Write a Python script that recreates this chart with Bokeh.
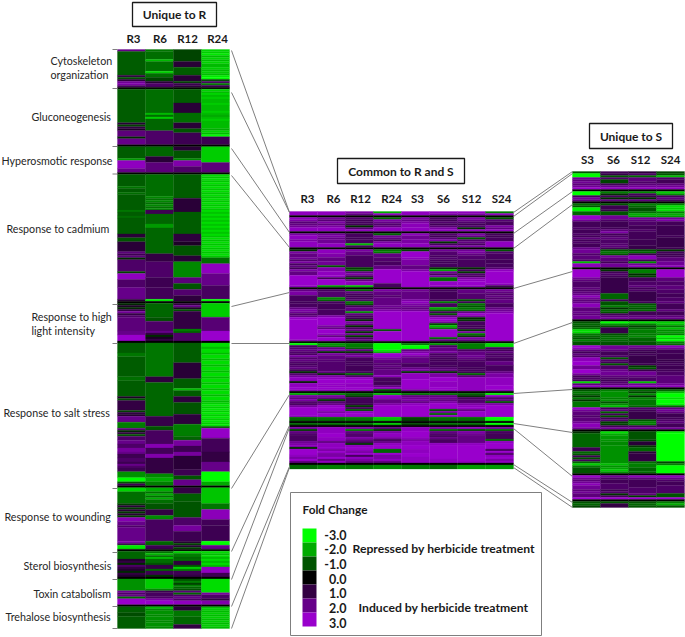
from bokeh.plotting import figure
from bokeh.models import ColumnDataSource, LinearColorMapper
from bokeh.core.properties import value
from bokeh.embed import file_html
from bokeh.resources import INLINE

# ---------------- data: fold change, listed block by block, column by column ----------------
left_cols = ["R3", "R6", "R12", "R24"]
common_cols = ["R3", "R6", "R12", "R24", "S3", "S6", "S12", "S24"]
right_cols = ["S3", "S6", "S12", "S24"]
left_terms = ["Cytoskeleton\norganization", "Gluconeogenesis", "Hyperosmotic response", "Response to cadmium",
              "Response to high\nlight intensity", "Response to salt stress", "Response to wounding",
              "Sterol biosynthesis", "Toxin catabolism", "Trehalose biosynthesis"]

L_R3 = [
 [2]+[-1.1]*12+[1,-1,0.8,2.2,2.5,1.5],
 [-1.1]*17+[0.8,-0.8,1,0.6]+[1.8]*3+[-0.5]+[2]*3,
 [-1.1]*6+[-1.8]+[2.8]*4+[2]*2,
 [-1.1]*6+[-1.4,-1.1,-1.1,-1.3]+[-1.1]*8+[-1.4,-1.1,-1.1,-1.3]+[-1.1]*8+[0.8]*2+[-1]*2+[0.8]*5+[1.8,1.2,1.8,-0.5]+[1.5]*6+[-0.8]+[2.8]*3+[1.5]*4+[2]*6+[0.8],
 [-0.5,0.6,-0.5,1,2.3,1,1.5]+[1.8]*7+[2,2]+[3]*3,
 [-1.1]*5+[-1.4]*2+[-1.1]*10+[-1.3]*2+[-1.1]*8+[0.6,-1,1]+[1]*4+[-0.8,1,0.7]+[2]*3+[-1.5]*3+[1.8,-0.5,1]+[-1]+[1.5,1.5,2,2,1.5,1.5,2.3,2.3,2,1.2,1.2,1.5,1.5,1.2,2,1.5,1.2,1.2]+[-1.7]*3+[-3]*2+[-1,1.2],
 [-2.5]*2+[-1.3]*6+[-0.7,0.8,-0.7,0.8,-0.7,0.8,-0.7]+[2.6,2.6,2,2,1.5]+[2]*7+[2.5,1.2]+[-2.7]*2+[2,1],
 [-1.2]*4+[0.7,1,-0.5,1.5,1,0.7,-0.5,1,0.7],
 [-1.7]*6+[2.2,1.5,2,-1.2]+[3]*3,
 [-1.1]*3+[-0.9]*2+[-1.1]*6,
]
L_R6 = [
 [-1.4]+[-1.3]*4+[-2.2]+[-1.3]*5+[-2.5]+[-1.3]*2+[-0.8]*2+[0.8]+[1.5]*2,
 [-1.3]*12+[-2.2,-1.3,-2.4]+[-1.2]*6+[1.5]*7,
 [-1.2]*5+[0.8]*3+[1.8]*5,
 [-1.3]*11+[-1.6,-1.3,-1.6,-1.3,-1.6,-1.3,-1.6]+[1.2]*2+[-1.2]*5+[-1.8]*2+[-1.2]*13+[1]*4+[1.5]*8+[1.2]*5+[1.3]*6+[-2.8],
 [-1.2]*7+[-1]*2+[1.5]*5+[2,1,-0.5,0.5,1],
 [-1.4]*17+[0.9]*3+[-1.2]*17+[1.1]*5+[-1]*2+[1.4]*7+[2.6]*2+[1.3]*3+[2.5]*2+[1]*8+[-1.6]*2+[-2]*2+[-1.5]*2,
 [-2]*2+[-1.3,-2,-1.3,-2,-1.3,-1.3]+[-1]*3+[1]*3+[-1.6]*2+[1.4]*11+[-1.2]*2+[1.2]*2,
 [-1.3,-2.2,-1.3,-2.2,-1.3,-1.3,-1,1,1,-1.2,1.2,1.2,-0.6],
 [-2.4]*5+[-1.6,1.2,1.4,1.4,1.5,2.4,3,3],
 [-2.2,-1.6,-1.7,-1.7,-1.6,-1.7,-1.7,-1.6,-1.7,-1.7,-1.6],
]
L_R12 = [
 [-0.8]*6+[0.8]*3+[-1.1]*4+[0.8]*3+[-0.8,1.2,1],
 [-1.1]*7+[0.8]*5+[-1.3]*5+[0.8]*3+[-1]*2+[1.2]*6,
 [0.8]*2+[-1]*4+[-1.6]+[2.5]*3+[1.5]*3,
 [-1.1]*12+[0.8]*7+[-1.1]*11+[0.9]*4+[0.6]*2+[-1]*5+[0.8]*3+[-1.6]*8+[1.8]*3+[-1]*3+[1.6]*3+[0.9]*3,
 [0.9,2,0.7,-1]+[1]*9+[-1.5,-1.2,1.5,1.5,1.5,1.5],
 [-1.1]*10+[0.8]*8+[-1.1]*5+[-2.2]+[-1.1]*3+[0.9]*3+[-1]*6+[0.9]*5+[-1.5]*6+[-1.2]*2+[2.3]*3+[1.2]*3+[2.3]*2+[0.8]*7+[1.2]*3+[-1]*2+[2]*3,
 [1]*3+[-1.1]*4+[-1]*8+[1.5]*4+[2.3]*3+[1.2]*5+[0.8,-0.8,0.8,-0.8],
 [-2.5,-1.5,-1.5,-1.2,-1.3,0.9,0.9,-1,-2.4,-1.5,1.2,1.2,1],
 [-1,-1.5,-0.8,-1.5,-1.2,-1,1.8,-1.2,1.5,2,1.5,2.8,2.8],
 [0.8,0.8,-1.4,-1.4,-1.4,-1.2,-1.2,-1.2,-1.2,1,1],
]
L_R24 = [
 [-2.5,-2.4,-2.7,-2.2,-2.5,-2.2,-2.5,-2.2,-2.2,-2.4,-2.2,-2.4,-2.2,-2.7,-3,-1,1.5,-1.5,1.2],
 [-2.5,-2.2,-2.5,-2.2,-2.4,-2.2,-2.2,-2.4,-2.2,-2.2,-2.2,-2.4,-2.2,-2,-2.2,-2.4,-2.2,-2.2,-2.2,-2.2,-2,-2.5,-2.2,-3]+[1.2]*4,
 [-2.4]*8+[1.8]*5,
 [-2.6,-2.3]*21+[-1.3]*3+[2.8]*5+[2]*6+[1.4]*7+[-3],
 [-2.4]*7+[1.7]*7+[3]*5,
 [-2.6,-2.6,-2.2]*10+[-2.4,-2.7]*6+[-1.2]+[2.9]*5+[1.3]*7+[1]*5+[2]*5+[-3]*5+[-2]*2,
 [-2.3]*8+[-1.4]*3+[2.7]*5+[1.3]*3+[1.2]*8+[-3]*2+[2]*2,
 [-2.6,-2.2]*4+[2.8]*3+[1.2]*2,
 [-2.6]*7+[2.4,1.5,1.5,1,2.5,2.5],
 [-2.2,-2.4,-2.2,-2.4,-2.2,-2.4,-2.2,-2.4,-2.2,-2.4,-2.2],
]

C_R3 = [
 [2.8,2.8],
 [2.8,2.4,1.7,1.9,2.2,2.8,2.8],
 [2.4,2.8,2.8,2.4,2.8,2.8,2.8],
 [-0.5,2.4,1.9,1.9,2.2,1.6,2.4,1.4,1.9,1.3,2.4,1.9,1.9,3,3,3,3,3,2.8],
 [1.9,2.4,2.4,1.4,1.4,1.4,1.3,1.4,1.4,1.9,2.4,2.2,1.6,1.9,2.9,3,3,3,3,3,3,3,3,3,3,2.8],
 [-3,1.4,1.6,1.9,1.6,1.4,2.4,1.6,1.9,1.6,1.4,1.6,1.9,1.3,-0.5,1.6,2.2,2.8,2.8,-0.3,2.8,2.8,3,2.8],
 [-2,2.4,1.9,2.4,1.6,1.4,2.2,3,3,3,3,2.9,-1.2,-1.2],
 [-1.2],
 [2.4,-0.8,1.9,1.6,1.4,1.4,1.4,2.2,2.4,2.8,-0.5,3,3,3,2.8,2.4,3,1.9],
 [-1.2,-1.2],
]
C_R6 = [
 [2.8,2.8],
 [2.2,1.7,2.4,1.9,2.4,2.8,2.8],
 [2.2,2.4,2,2.2,2.2,2.8,2.8],
 [2.8,2.8,2.5,2.5,1.9,1.9,2.2,2.2,-1,2.5,2.5,2.8,2.8,2.9,1.3,3,3,3,-1.8],
 [1.4,1.6,1.6,1.6,-1.6,-1.2,1.4,1.3,1.3,1.3,1.4,1.4,1.4,2.4,3,3,3,3,2.4,1.9,3,3,2.8,1.9,3,3],
 [-1.8,-1.5,1.9,2.4,-0.5,2.4,1.9,1.9,1.7,1.6,1.6,1.6,1.6,1.6,1.9,-0.5,2.4,2.8,3,3,2.9,2.8,3,2.8],
 [-1.6,2.4,1.9,-0.7,1.6,1.9,2.9,3,3,2.4,3,3,-1.3,-1.3],
 [-1.3],
 [2.8,2.8,2.8,3,3,2.8,2.8,1.9,2.8,2.8,2.9,2.4,3,2.4,2.4,3,1.9,2.8],
 [-1.5,-1.5],
]
C_R12 = [
 [2.4,1.9],
 [1.6,1.3,1.4,1.3,-0.5,1.6,2.8],
 [1.4,1.4,1.3,1.4,1.4,-2.2,1.4],
 [2.4,1.9,1.9,1.4,1.4,1.4,1.4,1.4,1.4,-0.8,-1,1.9,2.4,1.4,-0.6,1.9,2.8,2.8,-2.2],
 [-1.2,1.9,1.4,1.3,1.4,1.6,-1.4,-1,1.3,1.9,1.9,-1.7,1.9,1.4,1.3,-0.5,2.4,1.9,-0.5,1.4,1.9,-0.6,2.2,-0.7,1.4,1.9],
 [-1.5,-1.5,-1.2,1.9,-0.6,1.9,2.4,1.4,1.4,1.3,1.4,1.3,1.3,1.3,1.4,-1.2,1.4,2.8,3,3,2.8,2.8,3,2.8],
 [-1.2,-0.8,1.3,1.3,1.3,1.2,-0.7,1.4,-1,2.8,3,3,-1.4,-1.4],
 [-1.4],
 [2.4,-1.5,1.9,1.6,1.6,2.4,1.9,1.4,-0.6,2.8,3,2.8,2.4,3,1.4,2.8,2.4,1.9],
 [-1.4,-1.4],
]
C_R24 = [
 [-2,2.8],
 [-1.2,2.4,2,1.6,1.9,2.8,2.8],
 [-1.2,2.2,1.9,1.4,2.4,2.8,2.8],
 [-1.4,-1.5,1.9,1.9,1.6,1.6,1.4,1.4,1.9,1.9,3,3,3,3,3,3,3,1.4,1.4],
 [2.4,1.9,1.9,1.6,1.9,1.9,1.9,1.9,2.2,1.9,2.4,3,3,3,3,3,3,3,3,3,-1,3,3,3,3,3],
 [-3,-3,-3,-2.8,-2.2,3,3,2.4,1.9,1.9,1.6,1.9,1.6,1.9,1.9,1.9,2.8,1.4,1.4,1.3,1.3,1.9,2.8,-1],
 [-2.2,2.8,2.8,1.9,1.9,2.4,3,3,3,3,3,3,-2.3,-2.3],
 [-2.3],
 [1.9,-0.7,2.4,2.8,2.8,2.4,1.4,1.9,2.8,3,3,-1.2,-1.2,3,2.4,2.4,2.8,1.9],
 [-1.6,-1.6],
]
C_S3 = [
 [2.8,2.8],
 [2.4,2,2.4,2.7,2.7,2.8,2.8],
 [2.8,2.2,2.2,2.4,2.4,2.8,2.8],
 [-0.8,3,3,3,2.8,2.4,2.4,2.4,1.9,1.9,2.4,3,3,3,3,3,3,3,3],
 [2.2,1.9,1.9,1.9,1.9,2.4,2.8,2.4,2.2,1.9,2.2]+[3]*15,
 [-1.4,-3,-3,1.9,2.4,3,2.4,1.9,1.9,1.9,1.4,1.4,1.9,2.4,-0.6,2.8,2.8,2.8,3,3,3,3,3,2.4],
 [-1.4,1.9,2.2,2.4,1.9,2.8,3,3,3,3,3,3,-0.8,-0.8],
 [-0.8],
 [2.8,2.8,3,3,3,2.8,2.4,2.8,2.8,3,3,2.8,2.8,3,3,2.8,2.8,2.8],
 [-1.4,-1.4],
]
C_S6 = [
 [2.8,2.4],
 [1.4,1.3,1.6,1.3,1.7,2.4,2.8],
 [1.6,1.3,1.7,2.4,-0.6,1.4,2.4],
 [2.2,1.6,1.6,1.4,1.6,1.4,1.3,1.4,1.4,-0.6,-2,2.2,1.4,2.4,-1.3,-1.3,2.9,2.9,2.8],
 [1.4,1.3,1.3,1.3,1.3,1.4,-1.5,1.4,1.4,-2,-1.2,1.3,-1,1.9,2.8,3,2.4,-0.8,-2.2,-1.5,3,3,3,3,-1.2,1.9],
 [-1.8,1.4,1.9,1.9,2.4,1.4,1.6,1.4,1.3,1.4,1.4,1.3,1.6,1.9,-0.5,2.4,2.4,3,3,2.8,2.8,2.8,3,2.8],
 [-1.4,1.9,2.2,1.9,2.4,3,3,3,-1,2.4,-1.2,3,-1.3,-1.3],
 [-1.3],
 [2.4,-1.2,1.9,1.6,1.4,1.9,1.4,1.4,2.8,3,3,3,3,3,3,3,2.8,2.8],
 [-1.2,-1.2],
]
C_S12 = [
 [2.8,2.4],
 [2.4,2,1.6,1.3,1.6,-0.5,2.8],
 [2.4,1.9,-1,1.6,1.9,1.4,2.4],
 [2.2,2.4,1.9,1.6,1.6,1.4,1.4,1.4,1.4,-0.5,1.3,-0.7,1.6,1.4,2.4,2.8,3,3,2.8],
 [1.9,1.9,1.6,1.6,1.6,-1,1.3,-1.4,-1,-1.4,-1.2,1.9,3,2.4,-0.5,-0.7,1.4,1.4,1.2,1.4,-0.6,2.4,-1.4,-0.7,2.4,1.9],
 [-1.5,-1.5,-1.5,1.4,1.9,1.9,2.2,1.9,1.6,1.4,1.4,1.4,1.3,1.4,1.3,-1.2,1.6,2.8,2.8,2.8,2.8,2.8,2.8,2.8],
 [-1.2,-0.6,1.4,1.6,1.6,2.4,2.8,3,1.9,3,3,3,-1.3,-1.3],
 [-1.3],
 [2.8,-0.9,2.4,2.2,1.9,1.9,1.9,1.9,2.8,3,3,3,3,3,3,3,3,2.8],
 [-1.8,-1.8],
]
C_S24 = [
 [-1.5,2.8],
 [-1,1.7,1.4,1.4,2.4,1.9,2.8],
 [1.4,1.3,1.4,1.4,2.8,2.8,2.8],
 [-1,1.6,1.4,1.4,1.4,1.3,1.3,1.4,1.4,1.6,2.8,3,3,3,3,3,3,2.8,1.3],
 [2.2,1.9,1.6,1.9,1.6,1.9,1.9,1.4,1.4,1.9,2.2,2.5]+[3]*14,
 [-2.6,-2.6,1.4,1.3,1.9,1.4,1.6,1.4,1.4,1.9,1.9,1.4,1.4,1.4,1.9,2.4,2.4,2.8,2.8,2.8,2.8,3,3,2.8],
 [-2.8,2.8,1.6,1.9,-1,2.4,3,3,3,3,3,3,-3,-3],
 [-3],
 [2.4,-1.3,1.4,1.3,1.3,1.3,-1.2,2.8,3,3,3,1.4,3,1.6,2.8,3,2.4,2.8],
 [-1.8,-1.8],
]

U_S3 = [
 [-1,-3,-3,2.2,1.8,2.2,1.8,2.2,2.9],
 [-3,-3,1.3,2.2,1.8],
 [-1.3,-1,-2.8,-2.8,-1.2,-1.2,3,3,2.2,1.3,1.3,1.3,1.5,1.3,1.3,1.5,1.3,1.8,1.3,1.5,1.3,1.3,2,2.2,2.2,1.5,1.8,1.8,1.5,-2.2,2.7,2.7],
 [3,3,3,3,2.2,1.8,1.5,1.5,1.5,1.8,1.5,1.8,2,2.7,2.2,1.8,2,2.7,2.7,1.8,1.8,2,1.8,2.2,2.2],
 [-1,-1.2,-1,-1.3,-2.6,-2.5,-1.4,-1.2,-1,-1.5,-1,-1,3,2.7,1.8,1.3,1.8,1.5,2.7,2.7,3,3,2.2,2.2,3,3,2.2,1.3,1.5,1.3,-2.5,1.8,2.7],
 [-1,-1.4,-1.2,-0.7,-1.4,-0.6,-1.4,-1.4,-1.4,3,2.2,1.8,1.8,1.5,1.8,1.8,2.2,2.7,2.7,2.2],
 [-0.6,-1.2,-1.2,-1.2,-1.2,-1.2,-1.2,-1.2,1.2,1.2,-1.2,-1,1.2,-0.9,1.3,-1.2,-2.4,-1.4,-1,-1,-1],
 [3,2.2,1.8,2.2,2.7,2.2,2.2,1.8,2.2,1.8,1.8,3],
 [-1,-1.2,-0.8],
]
U_S6 = [
 [1.2,1.1,-1,1.5,-0.8,-0.8,1.3,2,2.7],
 [-1.5,-0.6,1.3,-0.5,1.8],
 [-1,1.2,1.2,1.1,-1,-1,2.2,2.2,1.5,1.2,1.2,1.2,1.3,1.8,2.4,1.3,1.5,1.8,1.5,1.5,1.6,1.8,1.3,-1,-1.4,-1,2.2,1.8,1.8,1.3,2.2,2.2],
 [-0.6,1.3,1.5,1.3,1.1,1.1,1.1,1.1,1.1,1.1,1.1,1.1,-1.2,-1.2,-1.2,1.3,-1,-1,-1.5,-0.6,-1.2,-1,1.3,1.8,2.2],
 [-3,-1.7,-1,1.1,1.1,1.1,-1,-1.2,-1.3,-1.2,-1,-1,2.2,2.2,1.8,1.3,1.3,1.5,-1,1.5,1.3,-1,1.5,1.5,2,2.2,2.2,1.8,1.5,1.3,1.6,1.8,2.7],
 [-1.5,-1.7,-1.7,-1.7,-1.5,-1.7,-1,-1.6,-2.2,1.3,1.8,-1.1,1.3,-0.9,1.3,1.5,-0.7,-0.8,1.3,2.2],
 [-2.6,-2,-1.8,-1.8,-1.7,-1.6,-1.6,-1.7,-1.7,-1.7,-1.7,-1.7,-1.7,-1.7,-1.7,-1.7,-2.2,-1.7,-1.9,-2.3,-1.7],
 [2.2,1.5,1.3,1.3,1.5,1.5,1.5,1.2,1.5,-0.6,1.3,3],
 [-1,1,1],
]
U_S12 = [
 [0.8,1.5,-1.2,1.8,1.8,1.5,1.8,2.2,2.7],
 [-1.6,1.3,1.1,-0.5,1.8],
 [-1.5,-1.2,-1,-1,-1.3,-2,-1.8,2.2,1.8,1.5,1.5,1.3,1.3,1.5,1.3,1.3,1.3,1.3,1.2,1.2,1.2,1.1,1.1,-0.9,-1.2,1.1,2.7,2.7,1.3,-1.6,2.2,2.7],
 [-1.5,-1.5,-0.5,-0.8,1.3,1.3,1.5,1.5,1.8,1.3,1.5,1.1,1.1,1.1,1.1,1.1,1.3,-1,-1.2,-1,-1.2,1.3,1.3,1.8,2],
 [-2.6,-1.5,-0.8,-1.2,-1.5,-1.5,-1.4,-1.6,-1.2,-1.2,-1,-1,2.2,1.8,1.3,1.1,1.3,1.1,1.1,1.1,1.1,1.2,-0.7,-1,1.1,2.2,2.2,1.8,1.5,1.5,-2.2,2.2,2.7],
 [-1.2,-0.8,-1.6,-0.6,-1.5,-1.4,-1.4,-1.4,-1.2,1.5,1.3,1.1,1.1,1.1,1.1,-1,-1.5,-1.4,1.3,2.2],
 [-1,-1,-1,-1,-0.8,0.8,0.8,-0.7,-1.2,-1.2,0.8,1,1,1,1,-1.3,-1.5,-1.5,-1.2,-1.2,-1.3],
 [2.7,1.8,1.3,1.3,1.3,1.3,1.5,1.5,1.5,1.8,-0.7,3],
 [-1,-1.2,-1],
]
U_S24 = [
 [-0.8,-1,-2.2,1.5,1.3,1.3,1.8,2.2,2.7],
 [-2.4,-1.6,1.3,1.8,1.3],
 [-1.5,-2.6,-2.4,-2.6,-1.5,-2,-1.8,2.2,2.4,1.3,1.3,1.2,1.2,1.2,1.2,1.2,1.3,1.1,1.1,1.1,1.1,1.1,1.2,-0.6,1.3,1.2,1.3,1.8,1.8,2.2,2.2,2.7],
 [3,3,3,3,1.8,1.8,1.5,1.5,1.8,1.8,1.5,1.5,1.3,1.3,1.5,1.5,1.8,1.3,1.3,1.3,1.8,1.3,1.3,1.8,2],
 [-2.4,-2.2,-1.4,-2.2,-1.6,-1.8,-1.5,-3,-2.4,-3,-1.5,-1.3,2.7,2.2,1.3,1.3,1.2,1.2,1.2,1.1,1.2,1.3,1.2,1.2,1.3,1.5,1.5,1.8,1.8,1.8,1.8,2.2,2.7],
 [-1.2,-2.2,-3,-3,-2.6,-3,-3,-2.8,-1.2,1.8,2.2,1.8,1.2,1.2,1.3,1.5,1.8,1.3,1.3,2.2],
 [-2.8]+[-3]*14+[-0.8,-1.5,-3,-3,-3,-3],
 [2.7,2,1.5,1.3,1.3,1.5,1.5,1.5,1.5,-1,-1,3],
 [-1.5,-2,-1],
]

scale_values = [-3, -2, -1, 0, 1, 2, 3]
scale_labels = ["-3.0", "-2.0", "-1.0", "0.0", "1.0", "2.0", "3.0"]

# ---------------- layout (page pixels) ----------------
FONT = value("Lato")
p = figure(width=685, height=637, x_range=(0, 685), y_range=(637, 0), output_backend="svg",
           toolbar_location=None, min_border=0, outline_line_color=None, background_fill_color="white")
p.axis.visible = False
p.grid.visible = False
p.styles = {"position": "absolute", "left": "0px", "top": "0px"}

ramp = []
for i in range(128):
    ramp.append("#00%02x00" % round(255 * (127 - i) / 127))
for i in range(128):
    ramp.append("#%02x00%02x" % (round(153 * i / 127), round(204 * i / 127)))
mapper = LinearColorMapper(palette=ramp, low=-3, high=3)


def join_blocks(blocks, sizes):
    rows = []
    for k, (b, n) in enumerate(zip(blocks, sizes)):
        rows += (list(b) + [b[-1]] * n)[:n]
        if k < len(sizes) - 1:
            rows.append(0)          # black separator row between gene-ontology groups
    return rows


def heat(columns, sizes, x0, x1, y0, y1):
    cols = [join_blocks(c, sizes) for c in columns]
    n = len(cols[0])
    w = (x1 - x0) / len(cols)
    h = (y1 - y0) / n
    L, R, T, B, V = [], [], [], [], []
    for j, col in enumerate(cols):
        start = 0
        for r in range(1, n + 1):
            if r == n or col[r] != col[start]:
                L.append(x0 + j * w); R.append(x0 + (j + 1) * w)
                T.append(y0 + start * h); B.append(y0 + r * h)
                V.append(col[start])
                start = r
    src = ColumnDataSource(dict(l=L, r=R, t=T, b=B, v=V))
    cmap = {"field": "v", "transform": mapper}
    p.quad(left="l", right="r", top="t", bottom="b", source=src, fill_color=cmap, line_color=cmap, line_width=0.3)


heat([L_R3, L_R6, L_R12, L_R24], [19, 28, 13, 64, 19, 72, 31, 13, 13, 11], 117, 229, 49, 628)
heat([C_R3, C_R6, C_R12, C_R24, C_S3, C_S6, C_S12, C_S24], [2, 7, 7, 19, 26, 24, 14, 1, 18, 2], 289, 513, 211, 468.5)
heat([U_S3, U_S6, U_S12, U_S24], [9, 5, 32, 25, 33, 20, 21, 12, 3], 572, 684, 171, 507)

# connector lines and ticks
GREY = "#7f7f7f"
mid_l = [212, 212, 232, 247, 292, 343, 394, 425, 427, 466, 467]
p.segment(x0=[231] * 11, y0=[50, 92, 148, 175, 306, 343, 488, 551, 579, 606, 628], x1=[289] * 11, y1=mid_l,
          line_color=GREY, line_width=1)
p.segment(x0=[112] * 11, y0=[49, 88, 146, 173.5, 304, 343, 488, 552, 579, 606, 628], x1=[117] * 11,
          y1=[49, 88, 146, 173.5, 304, 343, 488, 552, 579, 606, 628], line_color=GREY, line_width=1)
p.segment(x0=[513] * 11, y0=[212, 216, 233, 248, 288, 343, 393, 423, 428, 464, 467], x1=[572] * 11,
          y1=[171, 173, 191, 204, 271, 322, 389, 432, 476, 502, 507], line_color=GREY, line_width=1)

# title boxes
p.quad(left=[132, 337, 589], right=[216, 464, 672], top=[2, 158, 123], bottom=[26, 183, 148],
       fill_color="white", line_color="#1a1a1a", line_width=1.3)
p.text(x=[174, 400.5, 630.5], y=[14, 170.5, 135.5], text=["Unique to R", "Common to R and S", "Unique to S"],
       text_font=FONT, text_font_style="bold", text_font_size="12px", text_align="center",
       text_baseline="middle", text_color="#1a1a1a")

# column headers
p.text(x=[133, 159.5, 187, 217], y=[38] * 4, text=left_cols, text_font=FONT, text_font_style="bold",
       text_font_size="11.5px", text_align="center", text_baseline="middle", text_color="#1a1a1a")
p.text(x=[307, 333, 360, 391, 417, 443, 471, 501], y=[198] * 8, text=common_cols, text_font=FONT,
       text_font_style="bold", text_font_size="11.5px", text_align="center", text_baseline="middle", text_color="#1a1a1a")
p.text(x=[587, 613, 640, 670], y=[159] * 4, text=right_cols, text_font=FONT, text_font_style="bold",
       text_font_size="11.5px", text_align="center", text_baseline="middle", text_color="#1a1a1a")

# GO term labels
lines, lx, ly = [], [], []
term_x = [50, 31, 1, 6, 31, 3, 4, 23, 33, 5]
term_y = [60, 116, 160, 228, 316, 412, 516, 565, 593, 616]
for t, x, y in zip(left_terms, term_x, term_y):
    for i, s in enumerate(t.split("\n")):
        lines.append(s); lx.append(x); ly.append(y + i * 14)
p.text(x=lx, y=ly, text=lines, text_font=FONT, text_font_size="10.7px", text_align="left", text_baseline="middle",
       text_color="#262626")

# legend
p.quad(left=[290], right=[541], top=[492], bottom=[635], fill_color="white", line_color=GREY, line_width=1)
p.text(x=[302], y=[509], text=["Fold Change"], text_font=FONT, text_font_style="bold", text_font_size="11.8px",
       text_baseline="middle", text_color="#1a1a1a")
sw_top = [528 + 14 * i for i in range(len(scale_values))]
sw = ColumnDataSource(dict(l=[302] * len(scale_values), r=[316] * len(scale_values), t=sw_top,
                           b=[t + 14 for t in sw_top], v=scale_values))
p.quad(left="l", right="r", top="t", bottom="b", source=sw,
       fill_color={"field": "v", "transform": mapper}, line_color=None)
p.text(x=[346] * 7, y=[534, 548, 563, 578, 592, 607, 622], text=scale_labels, text_font=FONT,
       text_font_style="bold", text_font_size="12.5px", text_align="right", text_baseline="middle", text_color="#1a1a1a")
p.text(x=[352, 358], y=[548, 607], text=["Repressed by herbicide treatment", "Induced by herbicide treatment"],
       text_font=FONT, text_font_style="bold", text_font_size="12.2px", text_baseline="middle", text_color="#1a1a1a")

open("out.html", "w").write(file_html(p, INLINE))
